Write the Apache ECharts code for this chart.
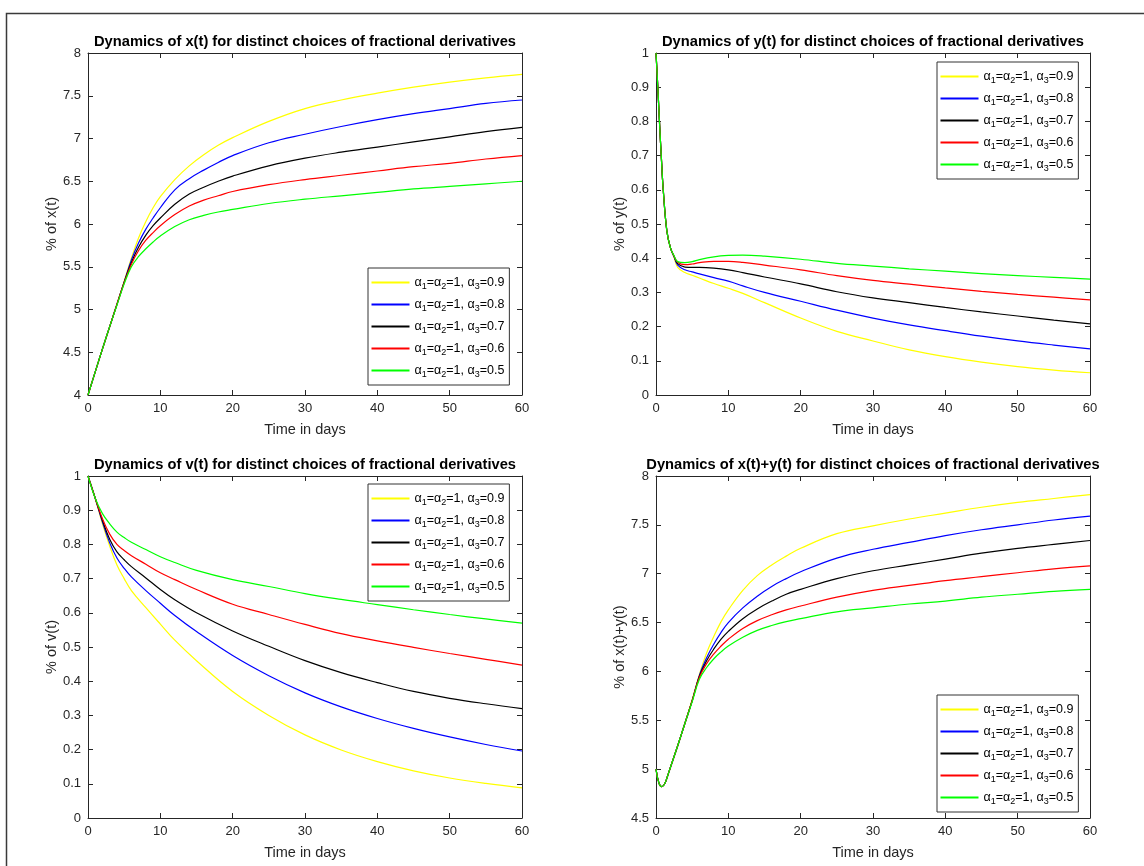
<!DOCTYPE html>
<html>
<head>
<meta charset="utf-8">
<script src="https://cdn.jsdelivr.net/npm/echarts@6/dist/echarts.min.js"></script>
<style>
html,body{margin:0;padding:0;background:#fff;}
#chart{width:1144px;height:866px;}
</style>
</head>
<body>
<div id="chart"></div>
<script>
// ---------- data ----------
const alphaNames = ['0.9', '0.8', '0.7', '0.6', '0.5'];
const lineColors = ['#FFFF00', '#0000FF', '#000000', '#FF0000', '#00FF00'];

const titles = [
  'Dynamics of x(t) for distinct choices of fractional derivatives',
  'Dynamics of y(t) for distinct choices of fractional derivatives',
  'Dynamics of v(t) for distinct choices of fractional derivatives',
  'Dynamics of x(t)+y(t) for distinct choices of fractional derivatives'
];
const yNames = ['% of x(t)', '% of y(t)', '% of v(t)', '% of x(t)+y(t)'];
const xName = 'Time in days';
const xTicks = [0, 60, 10];
const yTicks = [[4, 8, 0.5], [0, 1, 0.1], [0, 1, 0.1], [4.5, 8, 0.5]];

// x(t)
const daysX = [0, 1, 2, 3, 4, 5, 6, 7, 8, 9, 10, 12, 14, 16, 18, 20, 25, 30, 35, 40, 45, 50, 55, 60];
const x09 = [4, 4.27, 4.54, 4.8, 5.06, 5.33, 5.6, 5.84, 6.03, 6.19, 6.32, 6.52, 6.68, 6.81, 6.92, 7.01, 7.2, 7.35, 7.45, 7.53, 7.6, 7.66, 7.71, 7.75];
const x08 = [4, 4.27, 4.54, 4.8, 5.06, 5.32, 5.58, 5.78, 5.94, 6.07, 6.19, 6.40, 6.53, 6.63, 6.72, 6.80, 6.95, 7.05, 7.14, 7.22, 7.29, 7.35, 7.41, 7.45];
const x07 = [4, 4.27, 4.54, 4.8, 5.06, 5.32, 5.55, 5.73, 5.87, 5.98, 6.07, 6.23, 6.35, 6.43, 6.50, 6.56, 6.68, 6.77, 6.84, 6.90, 6.96, 7.02, 7.08, 7.13];
const x06 = [4, 4.27, 4.54, 4.8, 5.06, 5.31, 5.53, 5.69, 5.81, 5.90, 5.98, 6.11, 6.21, 6.28, 6.33, 6.38, 6.46, 6.52, 6.57, 6.62, 6.67, 6.71, 6.76, 6.80];
const x05 = [4, 4.27, 4.54, 4.8, 5.05, 5.30, 5.50, 5.62, 5.71, 5.79, 5.86, 5.97, 6.05, 6.10, 6.14, 6.17, 6.24, 6.29, 6.33, 6.37, 6.41, 6.44, 6.47, 6.50];

// y(t)
const daysY = [0, 0.25, 0.5, 0.75, 1, 1.5, 2, 2.5, 3, 4, 5, 6, 8, 10, 12, 15, 20, 25, 30, 35, 40, 45, 50, 55, 60];
const y09 = [1, 0.9, 0.79, 0.69, 0.6, 0.48, 0.43, 0.402, 0.373, 0.358, 0.35, 0.342, 0.326, 0.312, 0.297, 0.27, 0.225, 0.186, 0.158, 0.132, 0.112, 0.096, 0.083, 0.073, 0.065];
const y08 = [1, 0.9, 0.79, 0.69, 0.6, 0.48, 0.43, 0.404, 0.38, 0.366, 0.36, 0.354, 0.343, 0.333, 0.319, 0.30, 0.274, 0.248, 0.225, 0.205, 0.188, 0.172, 0.158, 0.146, 0.135];
const y07 = [1, 0.9, 0.79, 0.69, 0.6, 0.48, 0.43, 0.405, 0.384, 0.374, 0.373, 0.373, 0.371, 0.366, 0.358, 0.345, 0.325, 0.302, 0.284, 0.27, 0.256, 0.243, 0.231, 0.219, 0.208];
const y06 = [1, 0.9, 0.79, 0.69, 0.6, 0.48, 0.43, 0.406, 0.388, 0.381, 0.383, 0.387, 0.391, 0.391, 0.388, 0.38, 0.366, 0.349, 0.335, 0.324, 0.313, 0.303, 0.294, 0.286, 0.278];
const y05 = [1, 0.9, 0.79, 0.69, 0.6, 0.48, 0.43, 0.407, 0.39, 0.387, 0.39, 0.396, 0.404, 0.408, 0.409, 0.406, 0.397, 0.385, 0.377, 0.369, 0.362, 0.355, 0.349, 0.344, 0.339];

// v(t)
const daysV = [0, 1, 2, 3, 4, 5, 6, 8, 10, 12, 15, 20, 25, 30, 35, 40, 45, 50, 55, 60];
const v09 = [1, 0.935, 0.86, 0.795, 0.74, 0.70, 0.665, 0.615, 0.567, 0.52, 0.46, 0.37, 0.30, 0.243, 0.199, 0.165, 0.138, 0.117, 0.101, 0.088];
const v08 = [1, 0.935, 0.865, 0.805, 0.76, 0.73, 0.705, 0.665, 0.628, 0.592, 0.545, 0.475, 0.416, 0.366, 0.325, 0.291, 0.262, 0.237, 0.215, 0.196];
const v07 = [1, 0.935, 0.87, 0.815, 0.778, 0.755, 0.735, 0.702, 0.668, 0.638, 0.600, 0.547, 0.502, 0.46, 0.425, 0.396, 0.37, 0.35, 0.334, 0.32];
const v06 = [1, 0.935, 0.875, 0.83, 0.80, 0.782, 0.767, 0.742, 0.717, 0.697, 0.668, 0.625, 0.595, 0.566, 0.539, 0.518, 0.499, 0.481, 0.464, 0.447];
const v05 = [1, 0.935, 0.89, 0.86, 0.836, 0.82, 0.806, 0.785, 0.764, 0.747, 0.724, 0.697, 0.677, 0.656, 0.639, 0.624, 0.609, 0.595, 0.582, 0.570];

// x(t)+y(t)
const daysS = [0, 0.4, 0.8, 1.2, 1.6, 2, 3, 4, 5, 6, 7, 8, 9, 10, 12, 14, 16, 18, 20, 25, 30, 35, 40, 45, 50, 55, 60];
const s09 = [5.0, 4.86, 4.82, 4.85, 4.93, 5.02, 5.24, 5.47, 5.71, 5.97, 6.19, 6.36, 6.51, 6.63, 6.83, 6.98, 7.09, 7.18, 7.26, 7.41, 7.49, 7.56, 7.62, 7.68, 7.73, 7.77, 7.81];
const s08 = [5.0, 4.86, 4.82, 4.85, 4.93, 5.02, 5.24, 5.47, 5.70, 5.96, 6.14, 6.28, 6.40, 6.50, 6.65, 6.77, 6.87, 6.95, 7.02, 7.16, 7.25, 7.32, 7.39, 7.45, 7.50, 7.55, 7.59];
const s07 = [5.0, 4.86, 4.82, 4.85, 4.93, 5.02, 5.24, 5.47, 5.70, 5.95, 6.11, 6.23, 6.33, 6.41, 6.54, 6.64, 6.72, 6.79, 6.84, 6.95, 7.03, 7.09, 7.15, 7.21, 7.26, 7.30, 7.34];
const s06 = [5.0, 4.86, 4.82, 4.85, 4.93, 5.02, 5.24, 5.47, 5.70, 5.94, 6.08, 6.18, 6.26, 6.33, 6.44, 6.52, 6.58, 6.63, 6.67, 6.76, 6.83, 6.88, 6.93, 6.97, 7.01, 7.05, 7.08];
const s05 = [5.0, 4.86, 4.82, 4.85, 4.93, 5.02, 5.24, 5.47, 5.69, 5.92, 6.04, 6.13, 6.20, 6.26, 6.35, 6.42, 6.47, 6.51, 6.54, 6.61, 6.65, 6.69, 6.72, 6.76, 6.79, 6.82, 6.84];

const panels = [
  { days: daysX, values: [x09, x08, x07, x06, x05] },
  { days: daysY, values: [y09, y08, y07, y06, y05] },
  { days: daysV, values: [v09, v08, v07, v06, v05] },
  { days: daysS, values: [s09, s08, s07, s06, s05] }
];

// ---------- layout / style ----------
const FONT = '"Liberation Sans", Arial, Helvetica, sans-serif';
const AX = '#262626';
const grids = [
  { left: 88, top: 53, width: 434, height: 342 },
  { left: 656, top: 53, width: 434, height: 342 },
  { left: 88, top: 476, width: 434, height: 342 },
  { left: 656, top: 476, width: 434, height: 342 }
];
const legendPos = [
  { left: 368, top: 268 },
  { left: 937, top: 62 },
  { left: 368, top: 484 },
  { left: 937, top: 695 }
];

const axisCommon = {
  axisLine: { show: true, onZero: false, lineStyle: { color: AX, width: 1 } },
  axisTick: { show: true, inside: true, length: 5, lineStyle: { color: AX, width: 1 } },
  splitLine: { show: false }
};

const xAxes = [], yAxes = [], series = [], legends = [], titleCmp = [];
grids.forEach((g, i) => {
  xAxes.push(Object.assign({}, axisCommon, {
    type: 'value', gridIndex: i, position: 'bottom',
    min: xTicks[0], max: xTicks[1], interval: xTicks[2],
    name: xName, nameLocation: 'middle', nameGap: 27,
    nameTextStyle: { color: AX, fontSize: 14.5, fontFamily: FONT },
    axisLabel: { color: AX, fontSize: 13, fontFamily: FONT, margin: 7 }
  }));
  yAxes.push(Object.assign({}, axisCommon, {
    type: 'value', gridIndex: i, position: 'left',
    min: yTicks[i][0], max: yTicks[i][1], interval: yTicks[i][2],
    name: yNames[i], nameLocation: 'middle', nameGap: 24,
    nameTextStyle: { color: AX, fontSize: 14.5, fontFamily: FONT },
    axisLabel: { color: AX, fontSize: 13, fontFamily: FONT, margin: 7 }
  }));
  titleCmp.push({
    text: titles[i], left: g.left + g.width / 2, top: g.top - 19, textAlign: 'center', padding: 0,
    textStyle: { color: '#000', fontSize: 14.7, fontWeight: 'bold', fontFamily: FONT }
  });
  legends.push({
    orient: 'vertical', left: legendPos[i].left, top: legendPos[i].top,
    data: alphaNames, itemWidth: 38, itemHeight: 16, itemGap: 5,
    icon: 'path://M0,0H19V1H0Z',
    padding: [6, 5, 6, 3.5], backgroundColor: '#fff', borderColor: '#333', borderWidth: 1,
    selectedMode: false,
    formatter: n => '{a|\u03b1}{s|1}{a|=\u03b1}{s|2}{a|=1, \u03b1}{s|3}{a|=' + n + '}',
    textStyle: {
      color: '#000', fontFamily: FONT, fontSize: 12.5,
      rich: {
        a: { fontSize: 12.5, lineHeight: 16, fontFamily: FONT, color: '#000' },
        s: { fontSize: 9, lineHeight: 16, padding: [8, 0, 0, 0], fontFamily: FONT, color: '#000' }
      }
    }
  });
  panels[i].values.forEach((vals, k) => {
    series.push({
      type: 'line', name: alphaNames[k], xAxisIndex: i, yAxisIndex: i,
      data: panels[i].days.map((d, j) => [d, vals[j]]),
      symbol: 'none', smooth: 0.4,
      lineStyle: { color: lineColors[k], width: 1.2 },
      itemStyle: { color: lineColors[k] },
      animation: false, silent: true
    });
  });
});
grids.forEach((g, i) => {
  xAxes.push(Object.assign({}, axisCommon, {
    type: 'value', gridIndex: i, position: 'top',
    min: xTicks[0], max: xTicks[1], interval: xTicks[2],
    axisLabel: { show: false }
  }));
  yAxes.push(Object.assign({}, axisCommon, {
    type: 'value', gridIndex: i, position: 'right',
    min: yTicks[i][0], max: yTicks[i][1], interval: yTicks[i][2],
    axisLabel: { show: false }
  }));
});

const chart = echarts.init(document.getElementById('chart'), null, { renderer: 'canvas' });
chart.setOption({
  backgroundColor: '#fff',
  animation: false,
  title: titleCmp,
  grid: grids,
  xAxis: xAxes,
  yAxis: yAxes,
  legend: legends,
  series: series,
  graphic: [{
    type: 'rect', silent: true, z: 100,
    shape: { x: 6.5, y: 13.5, width: 1200, height: 900 },
    style: { fill: 'none', stroke: '#3a3a3a', lineWidth: 1.5 }
  }]
});
</script>
</body>
</html>
